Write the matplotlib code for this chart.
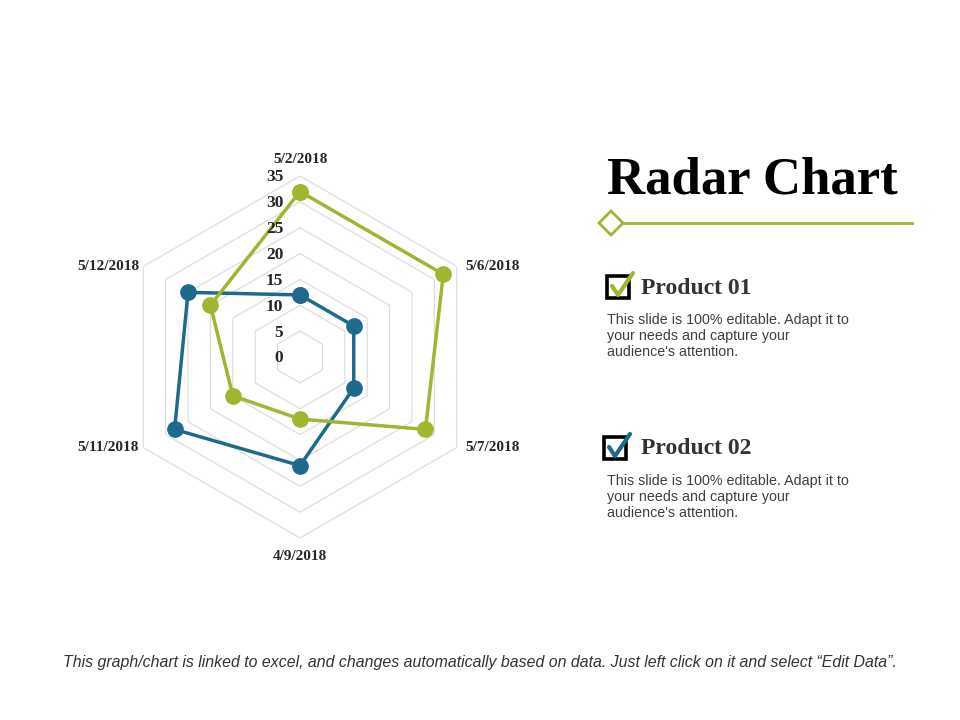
import numpy as np
import matplotlib
matplotlib.use('Agg')
import matplotlib.pyplot as plt
from matplotlib.patches import Rectangle, Polygon

# data
categories = ['5/2/2018', '5/6/2018', '5/7/2018', '4/9/2018', '5/11/2018', '5/12/2018']
product_01 = [32, 32, 28, 12, 15, 20]
product_02 = [12, 12, 12, 21, 28, 25]
rings = [5, 10, 15, 20, 25, 30, 35]
ring_labels = ['0', '5', '10', '15', '20', '25', '30', '35']

green = '#a0b630'
blue = '#1f6a8c'
grid_col = '#dedede'

fig = plt.figure(figsize=(9.6, 7.2), dpi=100)

# overlay axes in pixel coordinates for the slide decorations
ax0 = fig.add_axes([0, 0, 1, 1])
ax0.set_xlim(0, 960)
ax0.set_ylim(720, 0)
ax0.axis('off')

# radar axes: centre (300, 357), radius 181 px
cx, cy, rad = 300, 357, 181
ax = fig.add_axes([(cx - rad) / 960, (720 - cy - rad) / 720, 2 * rad / 960, 2 * rad / 720],
                  projection='polar')
ax.set_theta_offset(np.pi / 2)
ax.set_theta_direction(-1)
ax.set_ylim(0, 35)
ax.grid(False)
ax.spines['polar'].set_visible(False)
ax.set_xticks([])
ax.set_yticks([])
ax.patch.set_alpha(0)

n = len(categories)
theta = np.linspace(0, 2 * np.pi, n, endpoint=False)
theta_c = np.append(theta, theta[0])

# hexagonal grid (no spokes)
for r in rings:
    ax.plot(theta_c, [r] * (n + 1), color=grid_col, lw=0.9, zorder=1)

# series
for vals, col in [(product_02, blue), (product_01, green)]:
    v = vals + [vals[0]]
    ax.plot(theta_c, v, color=col, lw=2.5, marker='o', markersize=11, zorder=3)

# radial labels along the top spoke
for i, lab in enumerate(ring_labels):
    ax.annotate(lab, xy=(0, i * 5), xytext=(-12, -1), textcoords='offset points',
                ha='right', va='center', fontsize=12.5, fontweight='bold',
                family='Liberation Serif', color='#262626', zorder=4)

# category labels
lab_pos = [
    (0, 'center', 'bottom', (0, 7)),
    (1, 'left', 'center', (6, 0)),
    (2, 'left', 'center', (6, 0)),
    (3, 'center', 'top', (0, -9)),
    (4, 'right', 'center', (-3, 0)),
    (5, 'right', 'center', (-3, 0)),
]
for i, ha, va, off in lab_pos:
    ax.annotate(categories[i], xy=(theta[i], 35), xytext=off, textcoords='offset points',
                ha=ha, va=va, fontsize=11, fontweight='bold',
                family='Liberation Serif', color='#262626', annotation_clip=False)

# title and divider
ax0.text(607, 181, 'Radar Chart', fontsize=38, fontweight='bold', family='Liberation Serif',
         color='black', ha='left', va='center')
ax0.plot([623, 912], [223, 223], color=green, lw=2)
ax0.add_patch(Polygon([(599, 223), (611, 211), (623, 223), (611, 235)], closed=True,
                      facecolor='white', edgecolor=green, lw=2, zorder=3))

# product blocks
desc = "This slide is 100% editable. Adapt it to\nyour needs and capture your\naudience's attention."
blocks = [('Product 01', green, 607, 276, 288, 321), ('Product 02', blue, 604, 437, 449, 482)]
for name, col, bx, by, ty, dy in blocks:
    ax0.add_patch(Rectangle((bx, by), 22, 22, fill=False, edgecolor='black', lw=2.6, zorder=3))
    ax0.plot([bx + 5, bx + 11, bx + 26], [by + 10, by + 19, by - 3], color=col, lw=3,
             solid_capstyle='round', solid_joinstyle='round', zorder=4)
    ax0.text(641, ty, name, fontsize=17, fontweight='bold', family='Liberation Serif',
             color='#333333', ha='left', va='center')
    ax0.text(607, dy - 8, desc, fontsize=10.3, family='Liberation Sans', color='#404040',
             ha='left', va='top', linespacing=1.2)

# footer
ax0.text(480, 662, 'This graph/chart is linked to excel, and changes automatically based on data. '
         'Just left click on it and select \u201cEdit Data\u201d.',
         fontsize=11.4, style='italic', family='Liberation Sans',
         color='#333333', ha='center', va='center')

fig.savefig('out.png', dpi=100)
